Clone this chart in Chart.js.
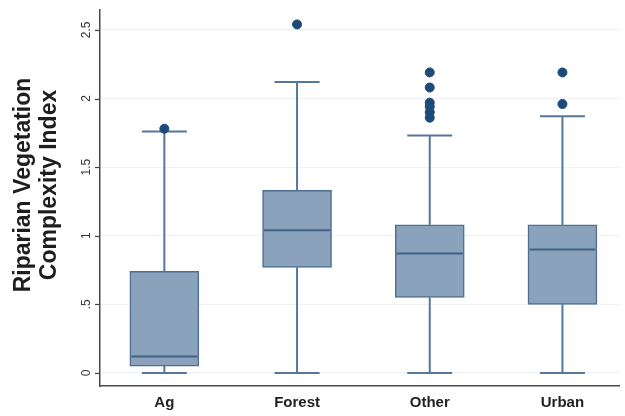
<!DOCTYPE html>
<html>
<head>
<meta charset="utf-8">
<script src="https://cdn.jsdelivr.net/npm/chart.js@4/dist/chart.umd.min.js"></script>
<style>
    html, body { margin: 0; padding: 0; background: #fff; }
    #wrap { width: 625px; height: 416px; }
</style>
</head>
<body>
<div id="wrap"><canvas id="boxChart"></canvas></div>
<script>
// categorias e estatisticas do boxplot
const categories = ['Ag', 'Forest', 'Other', 'Urban'];
const lowerWhisker = [0, 0, 0, 0];
const q1 = [0.05, 0.77, 0.55, 0.50];
const median = [0.12, 1.04, 0.87, 0.90];
const q3 = [0.74, 1.33, 1.08, 1.08];
const upperWhisker = [1.76, 2.12, 1.73, 1.87];
const outliers = [
    [1.78],
    [2.54],
    [2.19, 2.08, 1.97, 1.94, 1.90, 1.86],
    [2.19, 1.96]
];
const yTicks = [0, 0.5, 1, 1.5, 2, 2.5];
const yTickLabels = ['0', '.5', '1', '1.5', '2', '2.5'];
const yTitle = ['Riparian Vegetation', 'Complexity Index'];

document.addEventListener('DOMContentLoaded', function () {
    const ctx = document.getElementById('boxChart').getContext('2d');

    const boxData = categories.map(function (c, i) {
        return { x: i + 1, y: [q1[i], q3[i]] };
    });

    const outlierData = [];
    outliers.forEach(function (list, i) {
        list.forEach(function (v) {
            outlierData.push({ x: i + 1, y: v });
        });
    });

    // desenha bigodes e mediana depois das caixas
    const whiskerPlugin = {
        id: 'whiskers',
        afterDatasetDraw: function (chart, args) {
            if (args.index !== 0) return;
            const xs = chart.scales.x;
            const ys = chart.scales.y;
            const c = chart.ctx;
            c.save();
            categories.forEach(function (cat, i) {
                const cx = xs.getPixelForValue(i + 1);
                const capHalf = 22.5;
                const boxHalf = 34;
                c.strokeStyle = '#56779a';
                c.lineWidth = 2;
                c.beginPath();
                c.moveTo(cx, ys.getPixelForValue(q3[i]));
                c.lineTo(cx, ys.getPixelForValue(upperWhisker[i]));
                c.moveTo(cx - capHalf, ys.getPixelForValue(upperWhisker[i]));
                c.lineTo(cx + capHalf, ys.getPixelForValue(upperWhisker[i]));
                c.moveTo(cx, ys.getPixelForValue(q1[i]));
                c.lineTo(cx, ys.getPixelForValue(lowerWhisker[i]));
                c.moveTo(cx - capHalf, ys.getPixelForValue(lowerWhisker[i]));
                c.lineTo(cx + capHalf, ys.getPixelForValue(lowerWhisker[i]));
                c.stroke();
                // mediana
                c.strokeStyle = '#3f6286';
                c.beginPath();
                c.moveTo(cx - boxHalf + 1, ys.getPixelForValue(median[i]));
                c.lineTo(cx + boxHalf - 1, ys.getPixelForValue(median[i]));
                c.stroke();
            });
            c.restore();
        }
    };

    // titulo do eixo y e marcas dos ticks
    const axisPlugin = {
        id: 'axisExtras',
        afterDraw: function (chart) {
            const ys = chart.scales.y;
            const left = chart.chartArea.left;
            const c = chart.ctx;
            c.save();
            c.strokeStyle = '#444';
            c.lineWidth = 1.2;
            yTicks.forEach(function (v) {
                const py = Math.round(ys.getPixelForValue(v)) + 0.5;
                c.beginPath();
                c.moveTo(left - 5, py);
                c.lineTo(left, py);
                c.stroke();
            });
            c.translate(37, 185);
            c.rotate(-Math.PI / 2);
            c.fillStyle = '#1e1e1e';
            c.font = 'bold 23px "Liberation Sans", Arial, sans-serif';
            c.textAlign = 'center';
            c.textBaseline = 'middle';
            c.fillText(yTitle[0], 0, -13);
            c.fillText(yTitle[1], 0, 13);
            c.restore();
        }
    };

    new Chart(ctx, {
        type: 'bar',
        data: {
            datasets: [{
                label: 'box',
                data: boxData,
                backgroundColor: '#8aa2bb',
                borderColor: '#4d6f92',
                borderWidth: 1.5,
                borderSkipped: false,
                barThickness: 69,
                order: 2
            }, {
                type: 'scatter',
                label: 'outliers',
                data: outlierData,
                backgroundColor: '#1d4a78',
                borderColor: '#1d4a78',
                pointRadius: 4.5,
                order: 1
            }]
        },
        options: {
            responsive: true,
            maintainAspectRatio: false,
            animation: false,
            layout: { padding: { top: 10, right: 5, left: 0, bottom: 0 } },
            plugins: {
                legend: { display: false },
                tooltip: { enabled: false }
            },
            scales: {
                x: {
                    type: 'linear',
                    offset: false,
                    min: 0.515,
                    max: 4.43,
                    afterBuildTicks: function (scale) {
                        scale.ticks = categories.map(function (c, i) { return { value: i + 1 }; });
                    },
                    afterFit: function (scale) { scale.height = 30; },
                    grid: { display: false, drawTicks: false },
                    border: { display: true, color: '#4a4a4a', width: 1.5 },
                    ticks: {
                        padding: 8,
                        color: '#222',
                        font: { family: 'Liberation Sans', size: 15, weight: 'bold' },
                        callback: function (v) { return categories[v - 1]; }
                    }
                },
                y: {
                    min: -0.095,
                    max: 2.645,
                    afterBuildTicks: function (scale) {
                        scale.ticks = yTicks.map(function (v) { return { value: v }; });
                    },
                    afterFit: function (scale) { scale.width = 100; },
                    grid: {
                        color: '#eef2f6',
                        lineWidth: 1,
                        drawTicks: true,
                        tickLength: 5
                    },
                    border: { display: true, color: '#4a4a4a', width: 1.5 },
                    ticks: {
                        minRotation: 90,
                        maxRotation: 90,
                        crossAlign: 'center',
                        padding: 0,
                        color: '#333',
                        font: { family: 'Liberation Sans', size: 12 },
                        callback: function (v) {
                            const k = yTicks.indexOf(v);
                            return k >= 0 ? yTickLabels[k] : '';
                        }
                    }
                }
            }
        },
        plugins: [whiskerPlugin, axisPlugin]
    });
});
</script>
</body>
</html>
